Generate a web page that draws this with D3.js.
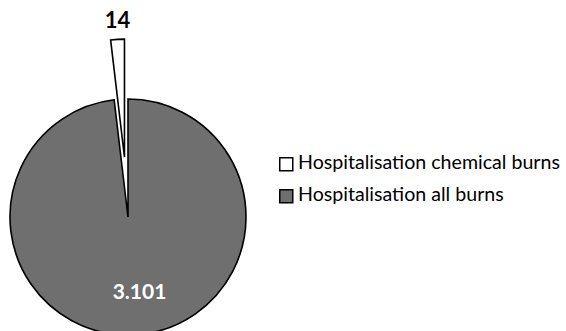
<!DOCTYPE html>
<html>
<head>
<meta charset="utf-8">
<script src="https://cdn.jsdelivr.net/npm/d3@7"></script>
<style>
  body { margin: 0; background: #fff; }
  text { font-family: Lato, "Open Sans", sans-serif; }
</style>
</head>
<body>
<div id="chart"></div>
<script>
// legend order
let categories = ["Hospitalisation chemical burns", "Hospitalisation all burns"];
let values = [14, 3101];
let valueLabels = ["14", "3.101"];
let fills = ["#ffffff", "#6f6f6f"];

let svgWidth = 566;
let svgHeight = 331;
let cx = 128;
let cy = 217;
let radius = 118;
let explode = 60;

let svg = d3
  .select("#chart")
  .append("svg")
  .attr("width", svgWidth)
  .attr("height", svgHeight);

let total = d3.sum(values);
let rows = categories.map((c, i) => ({ name: c, value: values[i], label: valueLabels[i], fill: fills[i] }));

// the tiny slice is drawn a bit wider so it stays visible
let pie = d3
  .pie()
  .sort(null)
  .value((d) => Math.max(d.value, total * 0.019));

// big slice first so the small one sits just left of 12 o'clock
let arcs = pie(rows.slice().reverse());

let arc = d3.arc().innerRadius(0).outerRadius(radius);

let g = svg.append("g").attr("transform", "translate(" + cx + "," + cy + ")");

g.selectAll("path")
  .data(arcs)
  .enter()
  .append("path")
  .attr("d", arc)
  .attr("fill", (d) => d.data.fill)
  .attr("stroke", "#000")
  .attr("stroke-width", 1.6)
  .attr("stroke-linejoin", "miter")
  .attr("transform", (d) => {
    if (d.data.value > total * 0.1) return null;
    let mid = (d.startAngle + d.endAngle) / 2;
    return "translate(" + Math.sin(mid) * explode + "," + -Math.cos(mid) * explode + ")";
  });

// value labels
arcs.forEach((d) => {
  let mid = (d.startAngle + d.endAngle) / 2;
  let big = d.data.value > total * 0.1;
  let r = big ? 77 : radius + explode + 17;
  let x = Math.sin(mid) * r + (big ? 7 : 1);
  let y = -Math.cos(mid) * r;
  g.append("text")
    .attr("x", x)
    .attr("y", y)
    .attr("text-anchor", "middle")
    .attr("dominant-baseline", "middle")
    .style("font-size", big ? "21px" : "22px")
    .style("font-weight", "bold")
    .attr("fill", big ? "#fff" : "#000")
    .text(d.data.label);
});

// legend
let legend = svg.append("g").attr("transform", "translate(279, 157)");
let item = legend
  .selectAll("g")
  .data(rows)
  .enter()
  .append("g")
  .attr("transform", (d, i) => "translate(0," + i * 32 + ")");

item
  .append("rect")
  .attr("x", 0.75)
  .attr("y", 0.75)
  .attr("width", 13)
  .attr("height", 13)
  .attr("fill", (d) => d.fill)
  .attr("stroke", "#000")
  .attr("stroke-width", 1.5);

item
  .append("text")
  .attr("x", 19)
  .attr("y", 7.5)
  .attr("dominant-baseline", "middle")
  .style("font-size", "19.6px")
  .attr("fill", "#000")
  .text((d) => d.name);
</script>
</body>
</html>
